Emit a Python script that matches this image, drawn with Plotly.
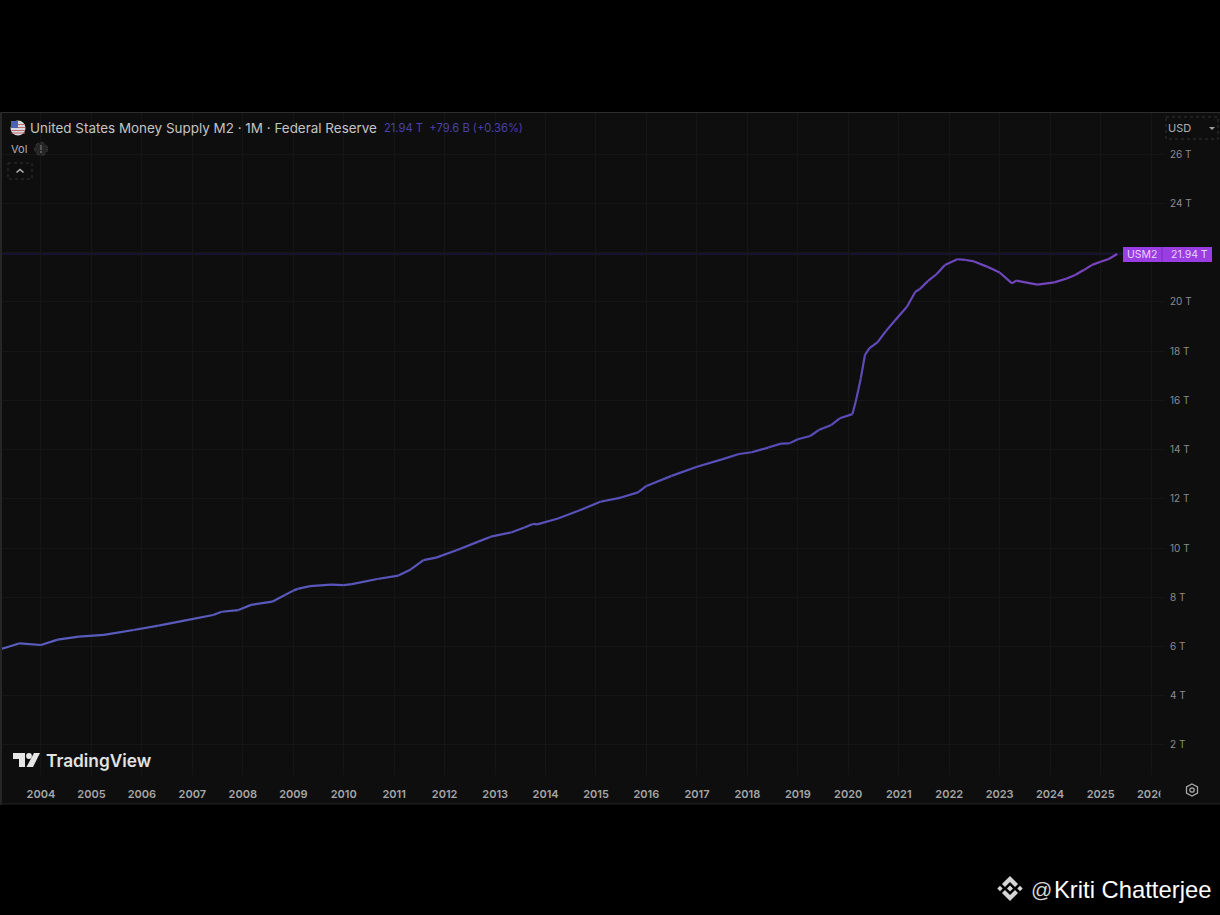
import plotly.graph_objects as go

# values, trillions USD
months = [
    "2003-03", "2003-04", "2003-08", "2004-01", "2004-05", "2004-10", "2005-04", "2005-11", "2006-05", "2006-12",
    "2007-06", "2007-08", "2007-12", "2008-03", "2008-08", "2008-11", "2009-01", "2009-02", "2009-05", "2009-10",
    "2010-01", "2010-03", "2010-09", "2011-02", "2011-05", "2011-08", "2011-11", "2012-04", "2012-09", "2012-12",
    "2013-05", "2013-08", "2013-10", "2013-11", "2014-04", "2014-09", "2015-02", "2015-07", "2015-11", "2016-01",
    "2016-07", "2017-01", "2017-07", "2017-11", "2018-02", "2018-06", "2018-09", "2018-11", "2019-01", "2019-04",
    "2019-06", "2019-09", "2019-11", "2020-02", "2020-03", "2020-04", "2020-05", "2020-06", "2020-08", "2020-10",
    "2020-12", "2021-03", "2021-05", "2021-06", "2021-08", "2021-10", "2021-12", "2022-03", "2022-05", "2022-07",
    "2022-10", "2023-01", "2023-04", "2023-05", "2023-10", "2024-02", "2024-05", "2024-07", "2024-09", "2024-11",
    "2025-01", "2025-03", "2025-05",
]
m2 = [
    5.90, 5.92, 6.13, 6.06, 6.28, 6.40, 6.47, 6.67, 6.85, 7.08,
    7.28, 7.41, 7.48, 7.69, 7.82, 8.09, 8.27, 8.34, 8.45, 8.51,
    8.49, 8.53, 8.74, 8.88, 9.13, 9.51, 9.61, 9.92, 10.26, 10.46,
    10.64, 10.83, 10.98, 10.96, 11.20, 11.52, 11.88, 12.05, 12.26, 12.52,
    12.93, 13.30, 13.60, 13.82, 13.89, 14.08, 14.24, 14.25, 14.42, 14.55,
    14.79, 15.00, 15.27, 15.44, 16.08, 16.89, 17.84, 18.11, 18.36, 18.82,
    19.22, 19.80, 20.41, 20.51, 20.85, 21.12, 21.50, 21.73, 21.70, 21.64,
    21.43, 21.19, 20.75, 20.86, 20.70, 20.79, 20.95, 21.09, 21.29, 21.50,
    21.63, 21.74, 21.94,
]
price_ticks = [2, 4, 6, 8, 10, 12, 14, 16, 18, 20, 22, 24, 26]
price_labels = ["2 T", "4 T", "6 T", "8 T", "10 T", "12 T", "14 T", "16 T", "18 T", "20 T", "", "24 T", "26 T"]

W, H = 1220, 915
PANEL = "#0e0e0e"
GRID = "#161616"


def px(x):
    return x / W


def py(y):
    return 1 - y / H


def path(points, close=True):
    s = "M " + " L ".join(f"{px(x):.5f},{py(y):.5f}" for x, y in points)
    return s + (" Z" if close else "")


def mix(a, b, t):
    return "#" + "".join(f"{round(a[i] + (b[i] - a[i]) * t):02x}" for i in range(3))


fig = go.Figure()

# line goes from blue on the left to violet on the right
left_c, mid_c, right_c = (90, 94, 190), (88, 76, 184), (124, 68, 192)
n = len(m2)
for i in range(n - 1):
    t = i / (n - 2)
    c = mix(left_c, mid_c, t / 0.6) if t < 0.6 else mix(mid_c, right_c, (t - 0.6) / 0.4)
    fig.add_trace(go.Scatter(x=months[i:i + 2], y=m2[i:i + 2], mode="lines",
                             line=dict(color=c, width=2.2), hoverinfo="skip", showlegend=False))

shapes = []


def rect(x0, y0, x1, y1, fill=None, line=None, lw=1, dash=None, layer="above"):
    shapes.append(dict(type="rect", xref="paper", yref="paper", x0=px(x0), y0=py(y0), x1=px(x1), y1=py(y1),
                       fillcolor=fill or "rgba(0,0,0,0)", layer=layer,
                       line=dict(color=line or "rgba(0,0,0,0)", width=lw if line else 0, dash=dash)))


def poly(points, fill=None, line=None, lw=1, close=True):
    shapes.append(dict(type="path", xref="paper", yref="paper", path=path(points, close), layer="above",
                       fillcolor=fill or "rgba(0,0,0,0)",
                       line=dict(color=line or "rgba(0,0,0,0)", width=lw if line else 0)))


def circle(cx, cy, r, fill=None, line=None, lw=1, dash=None):
    shapes.append(dict(type="circle", xref="paper", yref="paper", x0=px(cx - r), y0=py(cy - r), x1=px(cx + r),
                       y1=py(cy + r), layer="above", fillcolor=fill or "rgba(0,0,0,0)",
                       line=dict(color=line or "rgba(0,0,0,0)", width=lw if line else 0, dash=dash)))


# panel and borders
rect(0, 112, W, 805, fill=PANEL, layer="below")
rect(0, 112, W, 113, fill="#2e2e2e")
rect(0, 112, 2, 805, fill="#262626")
rect(0, 803, W, 804, fill="#1c1c1c")

# last price line
shapes.append(dict(type="line", xref="paper", yref="y", x0=px(2), x1=px(1123), y0=m2[-1], y1=m2[-1],
                   layer="below", line=dict(color="#241850", width=1)))

# the axis cuts the 2026 label off
rect(1160.5, 780, 1168, 800, fill=PANEL)

# price tag
rect(1123, 247, 1212, 262, fill="#9a3de2")
rect(1161.5, 247, 1162.5, 262, fill="#7d2fc0")

# flag icon
circle(18, 128, 7.5, fill="#d8d8e0")
poly([(11, 121), (18, 121), (18, 128), (11, 128)], fill="#4a63b8")
for y in (124.5, 127.5, 130.5, 133):
    poly([(18 if y < 128 else 11.5, y), (25, y)], line="#c06a70", lw=1, close=False)

# eye icon next to Vol
circle(41, 149, 6.5, fill="#262626", line="#3c3c3c", dash="dot")
rect(40.4, 145, 41.6, 150, fill="#777777")
rect(40.4, 151, 41.6, 153, fill="#777777")

# collapse button
rect(8, 163, 32, 179, line="#333333", dash="dot")
poly([(16.5, 172.5), (20, 169.5), (23.5, 172.5)], line="#b5b5b5", lw=1.5, close=False)

# currency box
rect(1166, 117, 1218, 139, line="#333333", dash="dot")
poly([(1209, 127), (1215, 127), (1212, 130)], fill="#a0a0a0")

# settings icon
poly([(1192, 784), (1197.5, 787), (1197.5, 793), (1192, 796), (1186.5, 793), (1186.5, 787)], line="#a8a8a8", lw=1.3)
circle(1192, 790, 2.2, line="#a8a8a8", lw=1.3)

# TradingView mark
poly([(13, 753), (25, 753), (25, 767), (19, 767), (19, 759), (13, 759)], fill="#e6e6e6")
circle(29, 756, 2.9, fill="#e6e6e6")
poly([(34, 753), (40, 753), (33, 767), (26.5, 767)], fill="#e6e6e6")

# Binance mark
WM = "#d6d6d6"
poly([(1010, 876), (1018, 884), (1015, 887), (1010, 882), (1005, 887), (1002, 884)], fill=WM)
poly([(1010, 901), (1018, 893), (1015, 890), (1010, 895), (1005, 890), (1002, 893)], fill=WM)
poly([(1010, 885.5), (1013, 888.5), (1010, 891.5), (1007, 888.5)], fill=WM)
poly([(1000, 885.8), (1002.7, 888.5), (1000, 891.2), (997.3, 888.5)], fill=WM)
poly([(1020, 885.8), (1022.7, 888.5), (1020, 891.2), (1017.3, 888.5)], fill=WM)

notes = [
    (28, 128, "United States Money Supply M2 · 1M · Federal Reserve", 13.45, "#c4c4c4", "Inter", 400, "left"),
    (382, 128, "21.94 T  +79.6 B (+0.36%)", 11.2, "#4b41ab", "Inter", 400, "left"),
    (9, 149, "Vol", 11, "#b0b0b0", "Inter", 400, "left"),
    (1166, 128.5, "USD", 11, "#b0b0b0", "Inter", 400, "left"),
    (1125, 254.5, "USM2", 10.5, "#e8d4fa", "Inter", 400, "left"),
    (1210, 254.5, "21.94 T", 10.5, "#e8d4fa", "Inter", 400, "right"),
    (44, 760, "TradingView", 17.3, "#e2e2e2", "Inter", 600, "left"),
    (1029, 889, "@", 21, "#d6d6d6", "Liberation Sans", 400, "left"),
    (1052, 889, "Kriti Chatterjee", 23.8, "#ffffff", "Liberation Sans", 400, "left"),
]
annotations = [
    dict(xref="paper", yref="paper", x=px(x), y=py(y), text=t, showarrow=False, xanchor=a, yanchor="middle",
         font=dict(size=s, color=c, family=f, weight=w))
    for x, y, t, s, c, f, w, a in notes
]

fig.update_layout(
    width=W, height=H,
    margin=dict(l=0, r=0, t=0, b=0),
    paper_bgcolor="#000000",
    plot_bgcolor=PANEL,
    showlegend=False,
    shapes=shapes,
    annotations=annotations,
    xaxis=dict(
        type="date",
        domain=[px(2), px(1164)],
        range=["2003-03-25", "2026-04-05"],
        tick0="2004-01-01", dtick="M12", tickformat="%Y",
        showgrid=True, gridcolor=GRID, gridwidth=1, zeroline=False, showline=False,
        ticks="outside", ticklen=9, tickcolor="rgba(0,0,0,0)",
        tickfont=dict(family="Inter", size=11, color="#a6a6a6", weight=600),
    ),
    yaxis=dict(
        side="right",
        domain=[py(775), py(113)],
        range=[0.78, 27.67],
        tickmode="array", tickvals=price_ticks, ticktext=price_labels,
        showgrid=True, gridcolor=GRID, gridwidth=1, zeroline=False, showline=False,
        ticks="outside", ticklen=3, tickcolor="rgba(0,0,0,0)",
        tickfont=dict(family="Inter", size=10, color="#8c8c8c"),
    ),
)

fig.write_html("out.html", post_script="document.body.style.margin='0';", config=dict(displayModeBar=False))
